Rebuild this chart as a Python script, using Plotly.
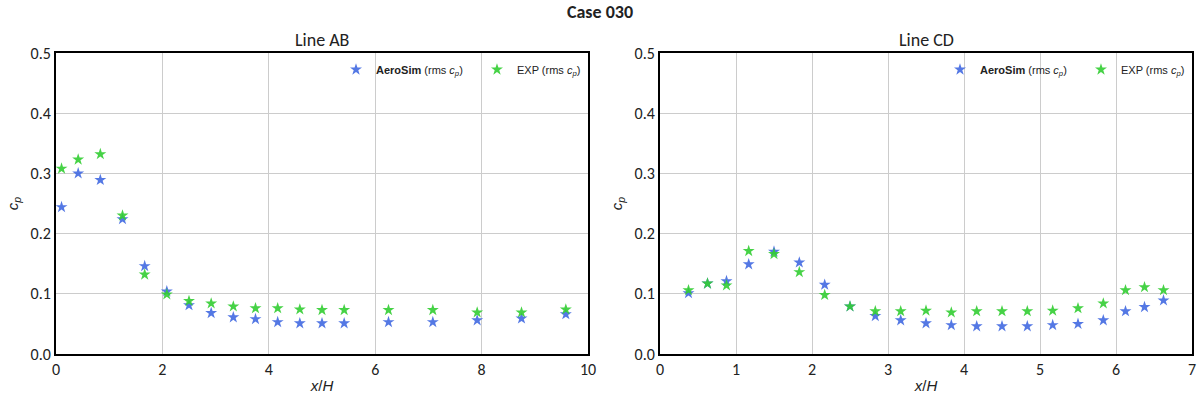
import plotly.graph_objects as go
from plotly.subplots import make_subplots

# Line AB
ab_x = [0.104, 0.417, 0.833, 1.25, 1.667, 2.083, 2.5, 2.917, 3.333, 3.75, 4.167, 4.583, 5.0, 5.417, 6.25, 7.083, 7.917, 8.75, 9.583]
ab_sim = [0.244, 0.300, 0.289, 0.224, 0.146, 0.104, 0.081, 0.068, 0.061, 0.058, 0.053, 0.051, 0.051, 0.051, 0.053, 0.053, 0.056, 0.059, 0.066]
ab_exp = [0.308, 0.323, 0.332, 0.230, 0.132, 0.099, 0.088, 0.084, 0.079, 0.076, 0.076, 0.074, 0.073, 0.073, 0.073, 0.073, 0.069, 0.069, 0.074]

# Line CD
cd_x = [0.375, 0.625, 0.875, 1.167, 1.5, 1.833, 2.167, 2.5, 2.833, 3.167, 3.5, 3.833, 4.167, 4.5, 4.833, 5.167, 5.5, 5.833, 6.125, 6.375, 6.625]
cd_sim = [0.101, 0.117, 0.121, 0.149, 0.170, 0.152, 0.115, 0.079, 0.063, 0.056, 0.051, 0.048, 0.046, 0.046, 0.046, 0.048, 0.050, 0.056, 0.071, 0.078, 0.089]
cd_exp = [0.106, 0.117, 0.114, 0.171, 0.166, 0.136, 0.098, 0.079, 0.071, 0.071, 0.072, 0.069, 0.071, 0.071, 0.071, 0.072, 0.076, 0.084, 0.106, 0.111, 0.106]

sim_label = "<b>AeroSim</b> (rms <i>c<sub>p</sub></i>)&nbsp;&nbsp;&nbsp;"
exp_label = "EXP (rms <i>c<sub>p</sub></i>)"
blue = "#4169E1"
green = "#32CD32"
FONT = "Carlito, Calibri, Open Sans"

fig = make_subplots(rows=1, cols=2, subplot_titles=["Line AB", "Line CD"], horizontal_spacing=72/1136)

for col, xs, sim, exp, lg in [(1, ab_x, ab_sim, ab_exp, "legend"), (2, cd_x, cd_sim, cd_exp, "legend2")]:
    fig.add_trace(go.Scatter(x=xs, y=sim, mode="markers", name=sim_label, legend=lg,
                             marker=dict(symbol="star", size=9, color=blue, opacity=0.9)), row=1, col=col)
    fig.add_trace(go.Scatter(x=xs, y=exp, mode="markers", name=exp_label, legend=lg,
                             marker=dict(symbol="star", size=9, color=green, opacity=0.9)), row=1, col=col)

axis_common = dict(showline=True, linecolor="black", linewidth=2, mirror=True,
                   showgrid=True, gridcolor="#cccccc", gridwidth=1, zeroline=False,
                   automargin=False, ticks="", tickfont=dict(size=16, color="#222", family=FONT))
fig.update_xaxes(**axis_common, title=dict(text="<i>x</i>/<i>H</i>", font=dict(size=15, family="Liberation Sans"), standoff=2))
fig.update_yaxes(**axis_common, range=[0, 0.5], dtick=0.1, tickformat=".1f",
                 title=dict(text="<i>c<sub>p</sub></i>", font=dict(size=15, family="Liberation Sans"), standoff=8))
fig.update_xaxes(range=[0, 10], dtick=2, row=1, col=1)
fig.update_xaxes(range=[0, 7], dtick=1, row=1, col=2)

for ann in fig.layout.annotations:
    ann.font = dict(size=18, family=FONT, color="#222")

leg_common = dict(orientation="h", yanchor="middle", y=0.945, xanchor="left",
                  bgcolor="rgba(0,0,0,0)", font=dict(size=11, family="Liberation Sans", color="#222"),
                  itemsizing="trace")
fig.update_layout(
    width=1200, height=400,
    margin=dict(l=56, r=8, t=53, b=46),
    paper_bgcolor="white", plot_bgcolor="white",
    font=dict(family=FONT, color="#222"),
    title=dict(text="<b>Case 030</b>", x=0.5, xanchor="center", y=0.97, yanchor="middle", font=dict(size=18)),
    legend=dict(**leg_common, x=(336-56)/1136),
    legend2=dict(**leg_common, x=(940-56)/1136),
)

fig.write_html("out.html", config={"displayModeBar": False},
               post_script="document.body.style.margin='0';")
